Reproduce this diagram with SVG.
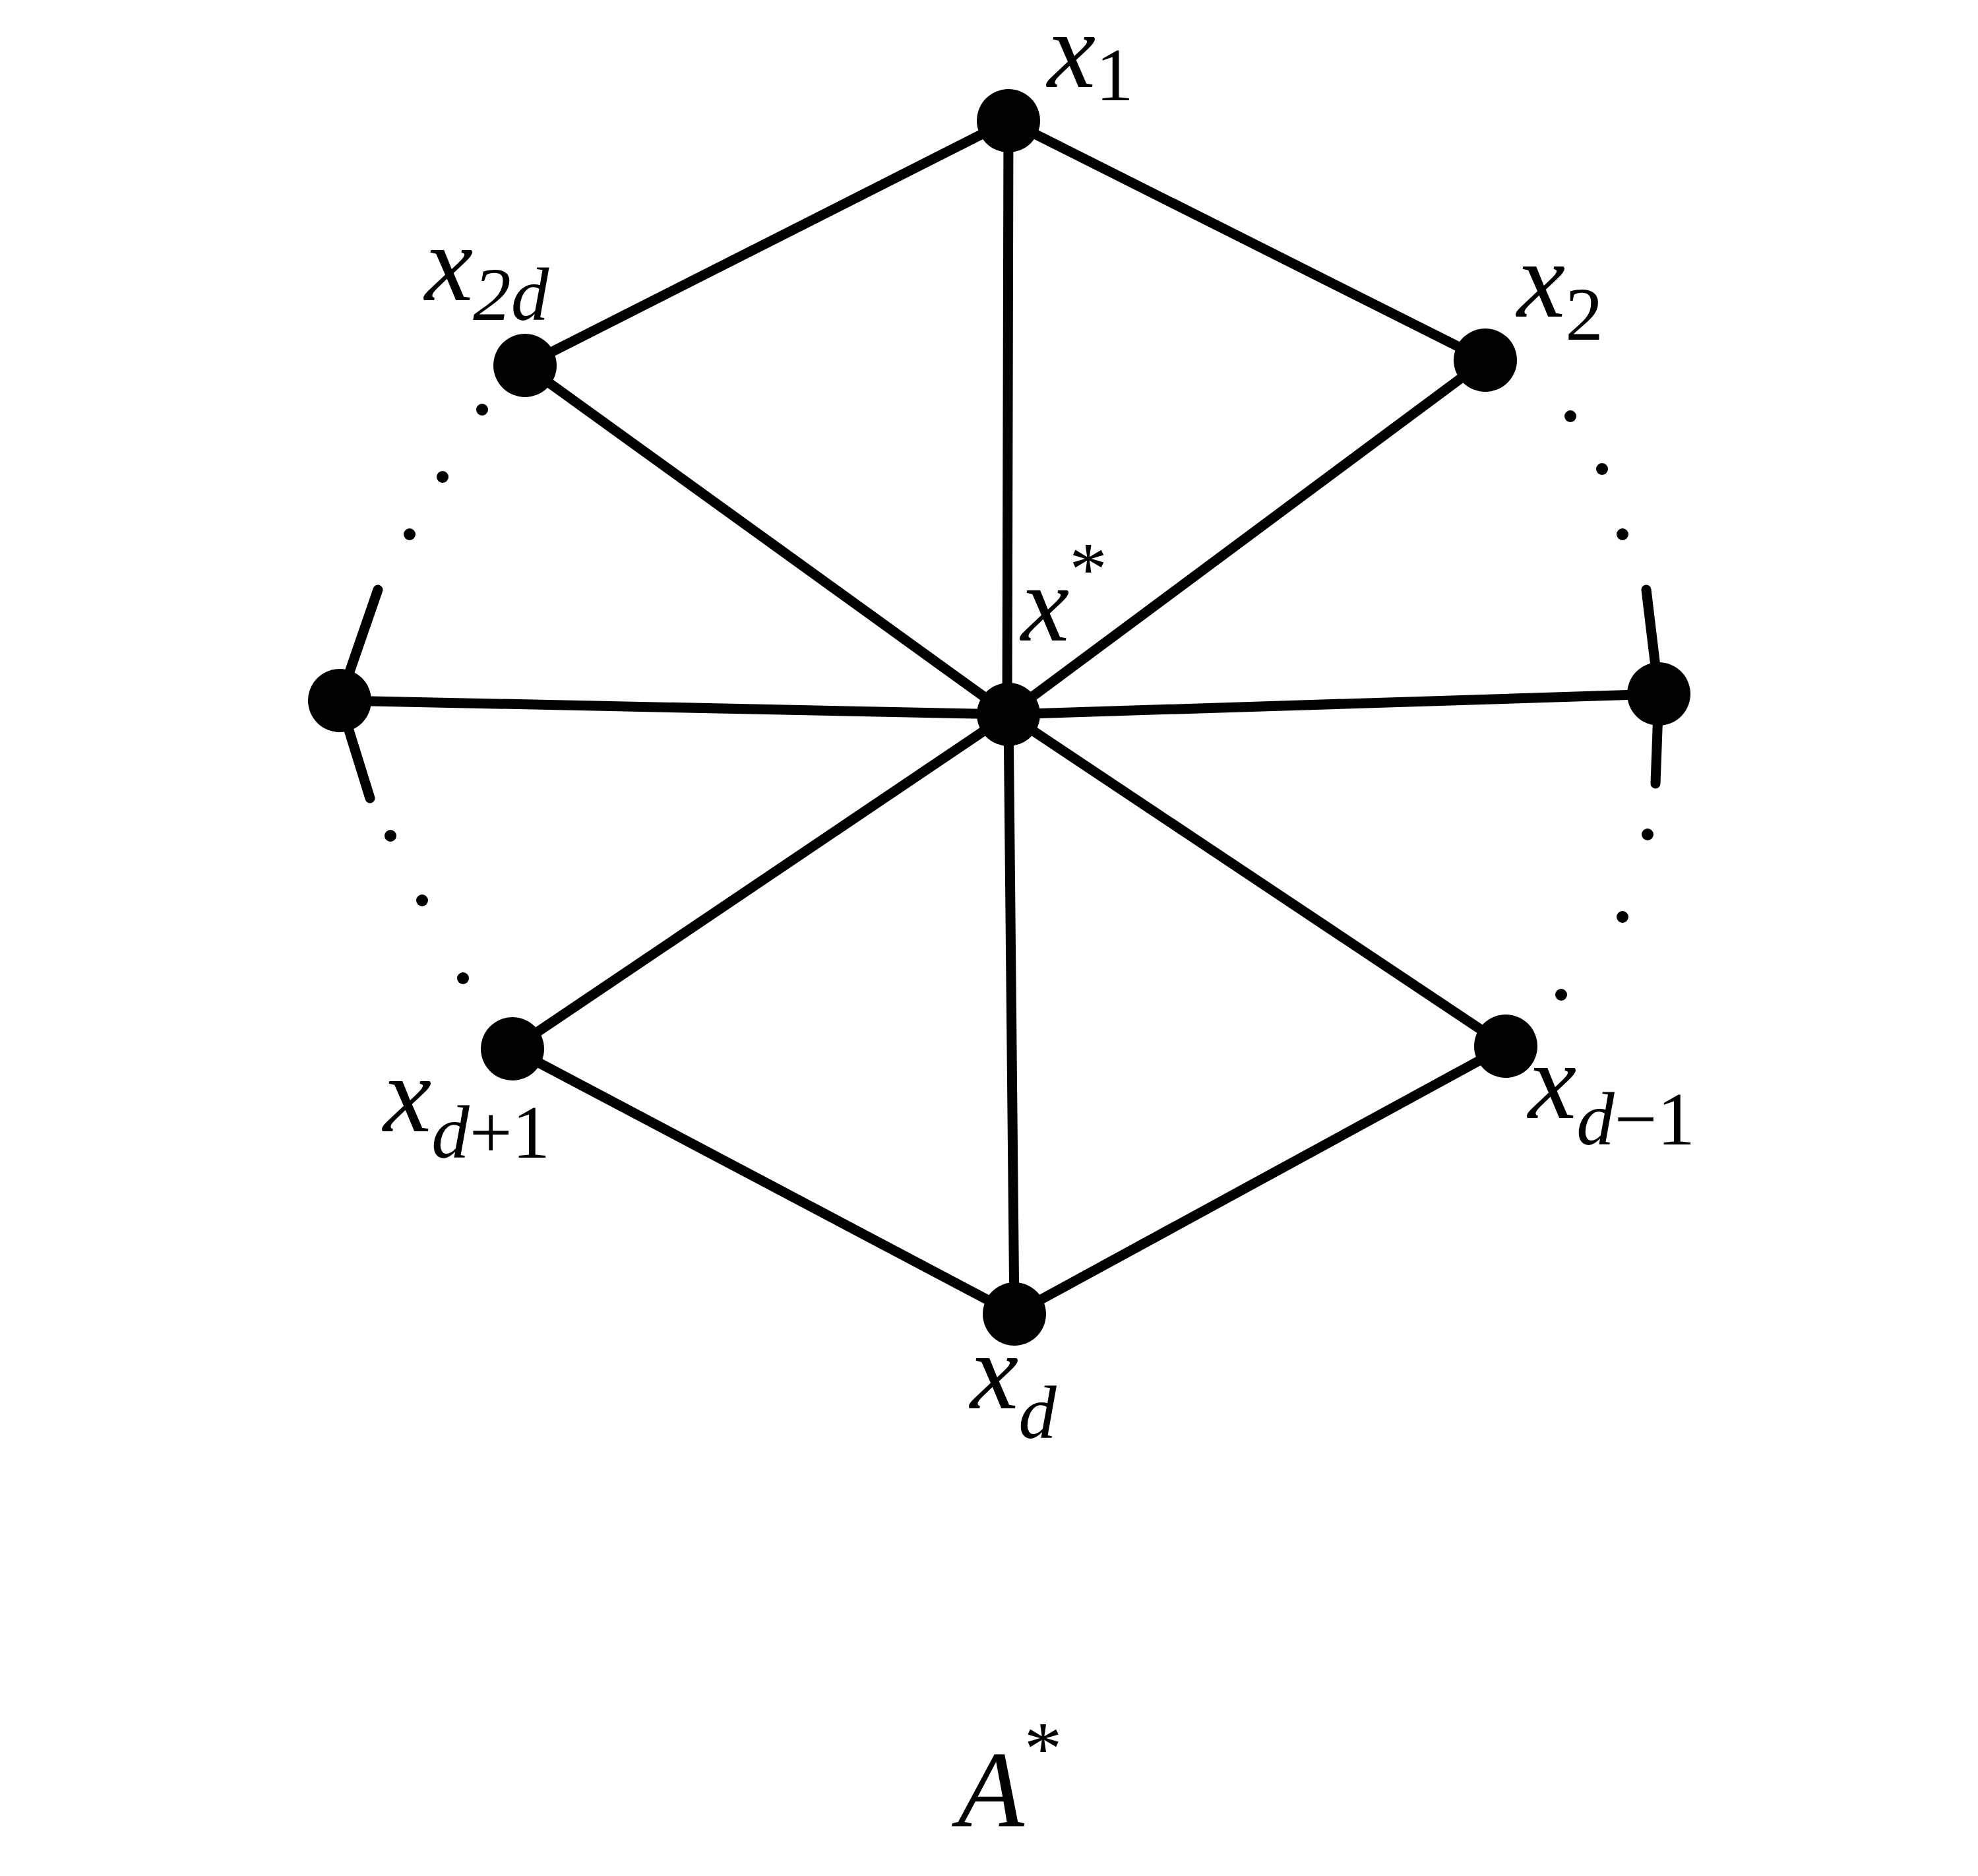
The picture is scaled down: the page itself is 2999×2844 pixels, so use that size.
<svg xmlns="http://www.w3.org/2000/svg" width="2999" height="2844" viewBox="0 0 2999 2844">
<style>
.e{stroke:#000;stroke-width:15;stroke-linecap:round;fill:none}
.n{fill:#000}
.d{fill:#000}
text{font-family:"Liberation Serif",serif;font-size:165px;fill:#000}
.i{font-style:italic}
.s{font-size:115px}
</style>
<rect width="2999" height="2844" fill="#fff"/>
<g id="connectors">
<line class="e" x1="1529" y1="183" x2="2252" y2="546"/>
<line class="e" x1="1529" y1="183" x2="796" y2="554"/>
<line class="e" x1="1529" y1="183" x2="1527" y2="1083"/>
<line class="e" x1="2252" y1="546" x2="1529" y2="1083"/>
<line class="e" x1="796" y1="554" x2="1529" y2="1083"/>
<line class="e" x1="515" y1="1062" x2="1529" y2="1083"/>
<line class="e" x1="2515" y1="1052" x2="1529" y2="1083"/>
<line class="e" x1="777" y1="1590" x2="1529" y2="1083"/>
<line class="e" x1="2283" y1="1586" x2="1529" y2="1083"/>
<line class="e" x1="1538" y1="1992" x2="1529" y2="1083"/>
<line class="e" x1="1538" y1="1992" x2="777" y2="1590"/>
<line class="e" x1="1538" y1="1992" x2="2283" y2="1586"/>
<line class="e" x1="515" y1="1062" x2="573" y2="894"/>
<line class="e" x1="515" y1="1062" x2="561" y2="1210"/>
<line class="e" x1="2515" y1="1052" x2="2496" y2="894"/>
<line class="e" x1="2515" y1="1052" x2="2510" y2="1188"/>
</g>
<g id="dots">
<circle class="d" cx="731" cy="621" r="9"/><circle class="d" cx="671" cy="723" r="9"/><circle class="d" cx="621" cy="810" r="9"/>
<circle class="d" cx="592" cy="1267" r="9"/><circle class="d" cx="640" cy="1365" r="9"/><circle class="d" cx="702" cy="1483" r="9"/>
<circle class="d" cx="2381" cy="631" r="9"/><circle class="d" cx="2429" cy="711" r="9"/><circle class="d" cx="2460" cy="810" r="9"/>
<circle class="d" cx="2498" cy="1265" r="9"/><circle class="d" cx="2460" cy="1390" r="9"/><circle class="d" cx="2367" cy="1508" r="9"/>
</g>
<g id="x1"><circle class="n" cx="1529" cy="183" r="48"/><text x="1588" y="132"><tspan class="i">x</tspan><tspan class="s" dy="20">1</tspan></text></g>
<g id="x2"><circle class="n" cx="2252" cy="546" r="48"/><text x="2300" y="480"><tspan class="i">x</tspan><tspan class="s" dy="35">2</tspan></text></g>
<g id="x2d"><circle class="n" cx="796" cy="554" r="48"/><text x="644" y="455"><tspan class="i">x</tspan><tspan class="s i" dy="30">2d</tspan></text></g>
<g id="xstar"><circle class="n" cx="1529" cy="1083" r="48"/><text x="1548" y="971"><tspan class="i">x</tspan><tspan class="s" dy="-70">*</tspan></text></g>
<g id="xleft"><circle class="n" cx="515" cy="1062" r="48"/></g>
<g id="xright"><circle class="n" cx="2515" cy="1052" r="48"/></g>
<g id="xd1"><circle class="n" cx="777" cy="1590" r="48"/><text x="581" y="1715"><tspan class="i">x</tspan><tspan class="s" dy="40"><tspan class="i">d</tspan>+1</tspan></text></g>
<g id="xdm1"><circle class="n" cx="2283" cy="1586" r="48"/><text x="2317" y="1695"><tspan class="i">x</tspan><tspan class="s" dy="40"><tspan class="i">d</tspan>−1</tspan></text></g>
<g id="xd"><circle class="n" cx="1538" cy="1992" r="48"/><text x="1471" y="2135"><tspan class="i">x</tspan><tspan class="s i" dy="45">d</tspan></text></g>
<text x="1452" y="2769" class="i">A<tspan class="s" font-style="normal" dy="-80">*</tspan></text>
</svg>
